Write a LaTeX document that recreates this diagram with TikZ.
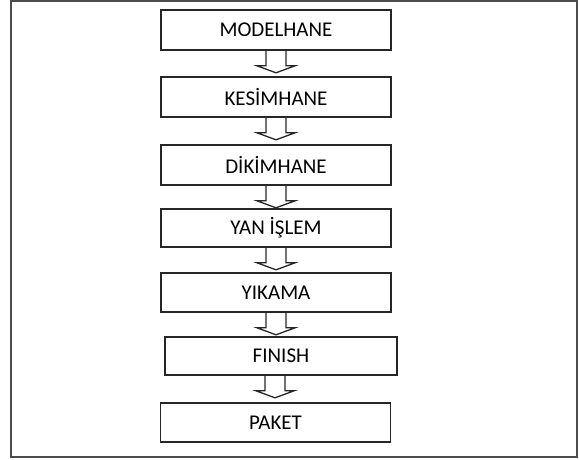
\documentclass[tikz,border=0pt]{standalone}
\usepackage{fontspec}
\setmainfont{Carlito}
\tikzset{
  stepbox/.style={draw=black!85, line width=1.6pt, minimum width=230pt, minimum height=40pt, inner sep=0pt, font=\fontsize{21}{24}\selectfont},
  frameline/.style={draw=black!70, line width=2.2pt},
  blockarr/.style={draw=black!85, line width=1.3pt, line join=miter}
}
\newcommand{\blockdown}[1]{%
  \draw[blockarr] ([shift={(-10,0)}]#1.south) -- ([shift={(-10,15)}]#1.south) -- ([shift={(-19,15)}]#1.south) -- ([shift={(0,22)}]#1.south) -- ([shift={(19,15)}]#1.south) -- ([shift={(10,15)}]#1.south) -- ([shift={(10,0)}]#1.south);}
\begin{document}
\begin{tikzpicture}[x=1pt,y=-1pt]
\useasboundingbox (0,0) rectangle (579,459);
\draw[frameline] (11,1) rectangle (577,457);
\node[stepbox] (m) at (276,30) {MODELHANE};
\node[stepbox] (k) at (276,97) {KESİMHANE};
\node[stepbox] (d) at (276,165) {DİKİMHANE};
\node[stepbox, minimum height=38pt] (y) at (276,228) {YAN İŞLEM};
\node[stepbox, minimum height=39pt] (w) at (276,292.5) {YIKAMA};
\node[stepbox, minimum width=232pt, minimum height=38pt] (f) at (281,356) {FINISH};
\node[stepbox, minimum height=39pt] (p) at (275.5,422.5) {PAKET};
\blockdown{m}
\blockdown{k}
\blockdown{d}
\blockdown{y}
\blockdown{w}
\draw[blockarr] ([shift={(-16,0)}]f.south) -- ([shift={(-16,15)}]f.south) -- ([shift={(-25,15)}]f.south) -- ([shift={(-6,22)}]f.south) -- ([shift={(13,15)}]f.south) -- ([shift={(4,15)}]f.south) -- ([shift={(4,0)}]f.south);
\end{tikzpicture}
\end{document}
